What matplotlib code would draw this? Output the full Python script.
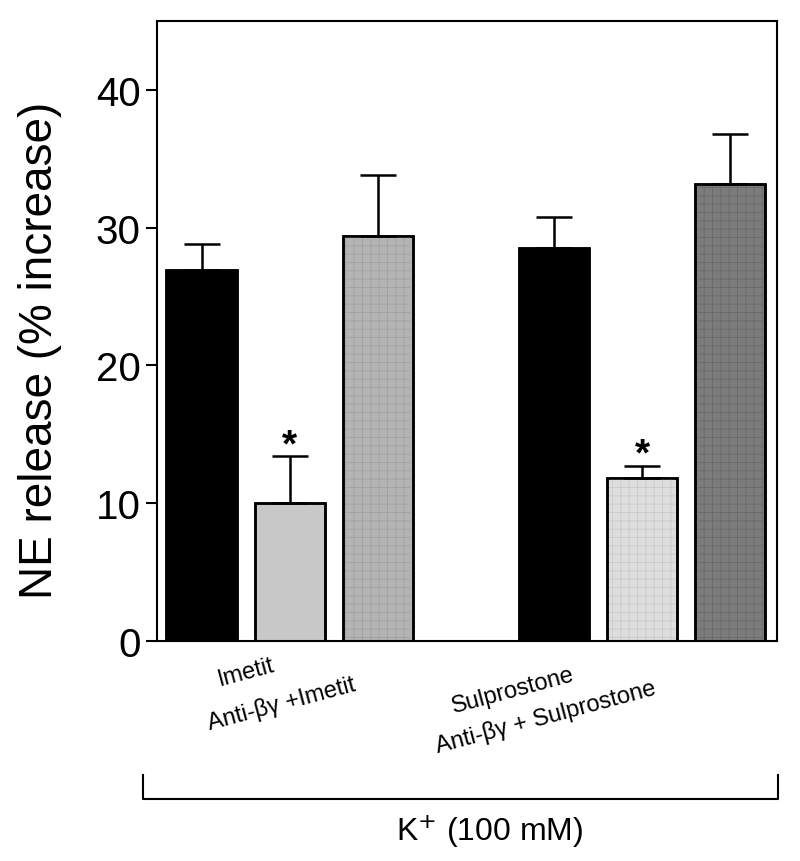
import numpy as np
import matplotlib
matplotlib.use("Agg")
import matplotlib.pyplot as plt
from matplotlib.lines import Line2D

plt.rcParams['font.family'] = ['Liberation Sans', 'DejaVu Sans']
plt.rcParams['hatch.linewidth'] = 0.6

# bar data (% increase in NE release)
positions = [0, 1, 2, 4, 5, 6]
means = [26.9, 10.0, 29.4, 28.5, 11.8, 33.2]
sems = [1.9, 3.4, 4.4, 2.3, 0.9, 3.6]
colors = ['#000000', '#c8c8c8', '#b4b4b4', '#000000', '#dedede', '#7c7c7c']
textures = [None, None, '#a2a2a2', None, '#cacaca', '#6a6a6a']
signif = [False, True, False, False, True, False]

fig = plt.figure(figsize=(8, 8.62), dpi=100)
ax = fig.add_axes([0.196, 0.2552, 0.775, 0.7193])

ax.bar(positions, means, width=0.8, color=colors, edgecolor='black', linewidth=1.8, zorder=2)
# faint grid texture on the patterned bars
for p, m, tc in zip(positions, means, textures):
    if tc:
        ax.bar(p, m, width=0.74, color='none', edgecolor=tc, hatch='++', linewidth=0, zorder=2.5)
ax.bar(positions, means, width=0.8, color='none', edgecolor='black', linewidth=1.8, zorder=2.6)
ax.errorbar(positions, means, yerr=[np.zeros(len(sems)), sems], fmt='none',
            ecolor='black', elinewidth=1.8, capsize=13, capthick=1.8, zorder=3)

for p, m, s, star in zip(positions, means, sems, signif):
    if star:
        ax.annotate('*', (p, m + s), xytext=(0, -5), textcoords='offset points',
                    ha='center', va='bottom', fontsize=28, fontweight='bold')

ax.set_xlim(-0.51, 6.53)
ax.set_ylim(0, 45)
ax.set_yticks([0, 10, 20, 30, 40])
ax.set_xticks([])
ax.tick_params(axis='y', labelsize=29, length=8, width=1.5, direction='out')
for sp in ax.spines.values():
    sp.set_linewidth(1.5)

W, H = 800.0, 862.0
fig.text(40 / W, 1 - 350 / H, 'NE release (% increase)', rotation=90,
         ha='center', va='center', fontsize=33)

# group labels under the bars
lab = [('Imetit', 246, 673), ('Anti-βγ +Imetit', 282, 704),
       ('Sulprostone', 513, 691), ('Anti-βγ + Sulprostone', 546, 717)]
for t, px, py in lab:
    fig.text(px / W, 1 - py / H, t, rotation=15, rotation_mode='anchor',
             ha='center', va='center', fontsize=17)

# K+ bracket
x0, x1, yb, yt = 143 / W, 778 / W, 1 - 800 / H, 1 - 776 / H
fig.add_artist(Line2D([x0, x0, x1, x1], [yt, yb, yb, yt], color='black', linewidth=1.5))
fig.text(490 / W, 1 - 831 / H, 'K$^{+}$ (100 mM)', ha='center', va='center', fontsize=23)

fig.savefig('out.png', dpi=100)
